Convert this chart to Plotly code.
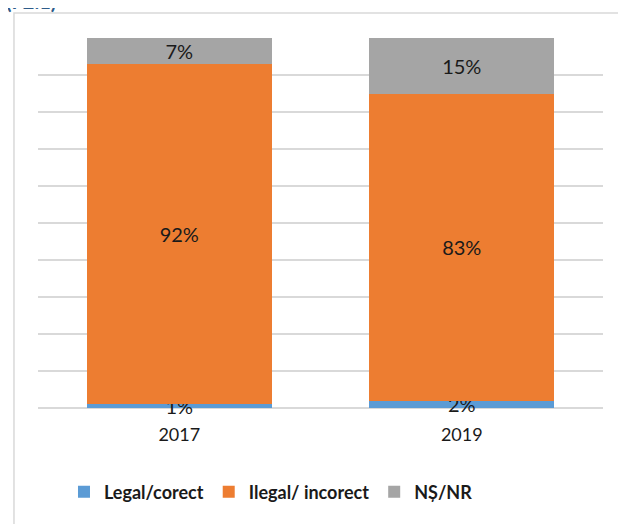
import plotly.graph_objects as go

years = ["2017", "2019"]
legal = [1, 2]
ilegal = [92, 83]
nsnr = [7, 15]
series_names = ["Legal/corect", "Ilegal/ incorect", "NȘ/NR"]
colors = ["#5B9BD5", "#ED7D31", "#A5A5A5"]

fig = go.Figure()
for name, vals, col in zip(series_names, [legal, ilegal, nsnr], colors):
    fig.add_trace(go.Bar(
        x=years, y=vals, name=name, marker_color=col, marker_line_width=0,
        text=[f"{v}%" for v in vals], textposition="inside",
        insidetextanchor="middle", textangle=0, cliponaxis=False,
        textfont=dict(family="Lato", size=20, color="#1a1a1a"),
    ))

# page has an 8px body margin, so the figure is laid out 8px smaller
fig.update_layout(
    barmode="stack", bargap=0.345,
    width=618, height=516,
    margin=dict(l=30, r=23, t=30, b=116, autoexpand=False),
    paper_bgcolor="white", plot_bgcolor="white",
    font=dict(family="Lato", size=18, color="#1a1a1a"),
    uniformtext=dict(minsize=20, mode="show"),
    showlegend=True,
    legend=dict(orientation="h", x=0.046, y=-0.227, xanchor="left", yanchor="middle",
                font=dict(family="Lato", size=18, color="#1a1a1a", weight="bold"),
                traceorder="normal"),
    xaxis=dict(showgrid=False, showline=False, ticks="", tickfont=dict(size=18),
               ticklabelstandoff=14),
    yaxis=dict(range=[0, 100], dtick=10, showticklabels=False, showgrid=True,
               gridcolor="#D9D9D9", gridwidth=1.5, zeroline=True,
               zerolinecolor="#D9D9D9", zerolinewidth=1.5),
)
fig.add_shape(type="rect", xref="paper", yref="paper",
              x0=-0.0425, x1=1.1, y0=-0.4, y1=1.0675,
              line=dict(color="#D9D9D9", width=1.5), layer="below")
fig.add_annotation(text="(F2.1)", xref="paper", yref="paper",
                   x=-0.06, y=1.062, xanchor="left", yanchor="bottom",
                   showarrow=False,
                   font=dict(family="Lato", size=20, color="#2E5C8A", weight="bold"))
fig.write_html("out.html")
